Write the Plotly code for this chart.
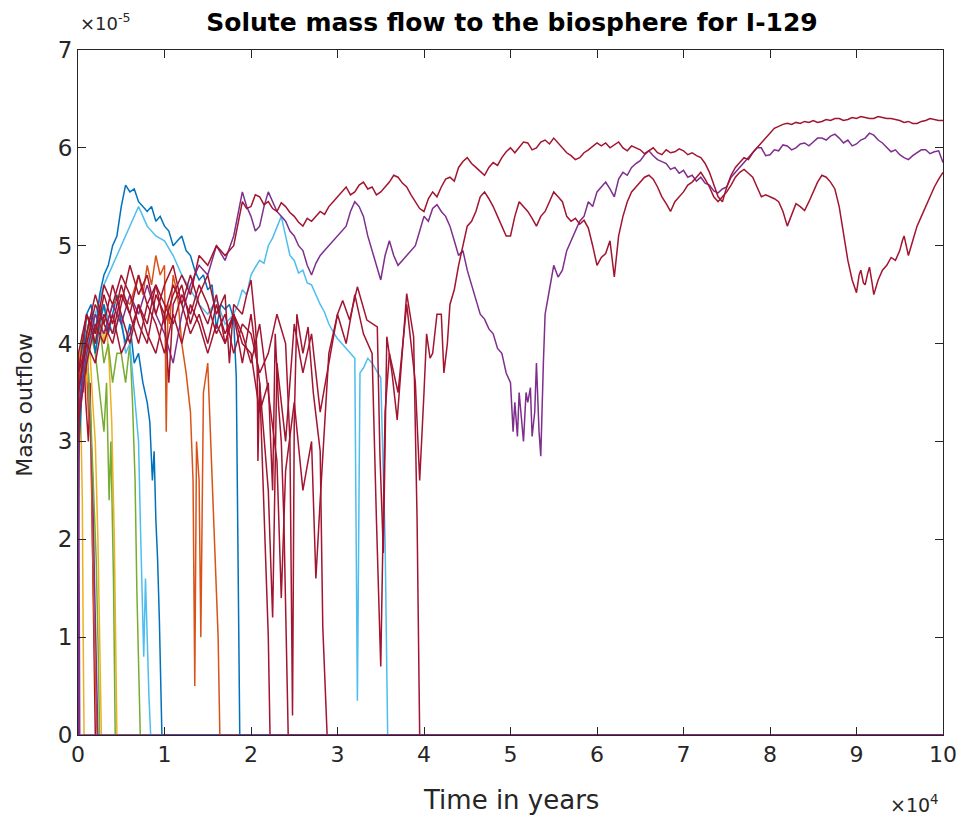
import plotly.graph_objects as go

# MATLAB default colour order
BLUE = "#0072BD"
ORANGE = "#D95319"
YELLOW = "#EDB120"
PURPLE = "#7E2F8E"
GREEN = "#77AC30"
CYAN = "#4DBEEE"
DARKRED = "#A2142F"

# Axis ticks (time in 1e4 years, outflow in 1e-5)
x_ticks = [0, 1, 2, 3, 4, 5, 6, 7, 8, 9, 10]
y_ticks = [0, 1, 2, 3, 4, 5, 6, 7]

# Each realisation: (time [x1e4 years], mass outflow [x1e-5])
purple_a = [(0, 0), (0.005, 3.0), (0.01, 2.2), (0.015, 1.2), (0.02, 0), (10, 0)]
yellow_a = [(0, 0), (0.005, 3.6), (0.02, 3.9), (0.035, 3.2), (0.05, 2.4), (0.06, 1.0), (0.07, 0), (10, 0)]
red_a = [(0, 0), (0.005, 3.8), (0.03, 3.5), (0.06, 4.0), (0.09, 3.4), (0.12, 3.0), (0.14, 3.6),
         (0.16, 2.4), (0.18, 1.0), (0.2, 0), (10, 0)]
orange_a = [(0, 0), (0.005, 3.4), (0.03, 3.8), (0.06, 3.5), (0.09, 3.9), (0.12, 3.3), (0.15, 3.0),
            (0.17, 1.8), (0.2, 0.6), (0.22, 0), (10, 0)]
purple_c = [(0, 0), (0.005, 3.7), (0.04, 4.0), (0.08, 3.6), (0.11, 3.9), (0.14, 3.2), (0.17, 2.6),
            (0.19, 1.6), (0.21, 0.8), (0.23, 0), (10, 0)]
green_a = [(0, 0), (0.005, 3.9), (0.04, 3.5), (0.08, 4.0), (0.12, 3.7), (0.15, 3.2), (0.18, 2.5),
           (0.21, 1.8), (0.23, 1.0), (0.25, 0), (10, 0)]
yellow_b = [(0, 0), (0.005, 3.8), (0.04, 4.0), (0.08, 3.7), (0.11, 4.2), (0.14, 3.9), (0.17, 3.4),
            (0.2, 3.0), (0.23, 2.0), (0.25, 1.0), (0.27, 0), (10, 0)]
yellow_c = [(0, 0), (0.005, 3.3), (0.05, 3.9), (0.1, 3.6), (0.15, 4.2), (0.2, 4.0), (0.25, 4.4),
            (0.3, 4.0), (0.33, 4.2), (0.36, 3.8), (0.39, 3.2), (0.42, 2.0), (0.45, 0), (10, 0)]
green_c = [(0, 0), (0.005, 3.6), (0.05, 4.1), (0.1, 3.8), (0.15, 4.2), (0.2, 3.9), (0.25, 3.5),
           (0.3, 3.1), (0.33, 3.6), (0.36, 2.4), (0.38, 3.0), (0.41, 1.6), (0.43, 0), (10, 0)]
green_b = [(0, 0), (0.005, 3.0), (0.05, 3.6), (0.1, 3.8), (0.15, 4.1), (0.2, 3.9), (0.25, 4.2),
           (0.3, 3.8), (0.35, 4.0), (0.4, 3.6), (0.45, 3.9), (0.5, 3.9), (0.55, 3.6), (0.6, 4.0),
           (0.63, 3.4), (0.66, 2.6), (0.68, 1.5), (0.7, 0.6), (0.72, 0), (10, 0)]
cyan_c = [(0, 0), (0.005, 3.4), (0.05, 3.7), (0.1, 3.9), (0.15, 4.2), (0.2, 4.0), (0.3, 4.4),
          (0.4, 4.1), (0.5, 4.3), (0.55, 3.9), (0.6, 4.0), (0.65, 3.5), (0.7, 3.0), (0.72, 2.2),
          (0.74, 1.5), (0.76, 0.8), (0.78, 1.6), (0.8, 0.9), (0.82, 0.4), (0.84, 0), (10, 0)]
blue_a = [(0, 0), (0.005, 2.8), (0.05, 3.6), (0.1, 4.1), (0.15, 4.3), (0.2, 3.9), (0.25, 4.2),
          (0.3, 4.4), (0.35, 4.1), (0.4, 4.3), (0.45, 4.5), (0.5, 4.2), (0.55, 4.0), (0.6, 4.2),
          (0.65, 3.8), (0.7, 3.9), (0.75, 3.6), (0.8, 3.4), (0.83, 3.2), (0.86, 2.6), (0.88, 2.9),
          (0.9, 2.2), (0.92, 1.8), (0.94, 1.2), (0.96, 0.5), (0.97, 0), (10, 0)]
blue_b = [(0, 0), (0.005, 3.0), (0.05, 3.8), (0.1, 4.3), (0.15, 4.4), (0.2, 4.1), (0.25, 4.5),
          (0.3, 4.7), (0.35, 4.8), (0.4, 5.0), (0.45, 5.1), (0.5, 5.4), (0.55, 5.62), (0.6, 5.55),
          (0.65, 5.58), (0.7, 5.45), (0.75, 5.4), (0.8, 5.35), (0.85, 5.4), (0.9, 5.25), (0.95, 5.3),
          (1.0, 5.2), (1.05, 5.15), (1.1, 5.0), (1.15, 5.05), (1.2, 5.1), (1.25, 4.95), (1.3, 4.9),
          (1.35, 4.75), (1.4, 4.65), (1.45, 4.7), (1.5, 4.55), (1.55, 4.6), (1.6, 4.15), (1.65, 4.4),
          (1.7, 4.35), (1.75, 4.4), (1.8, 4.25), (1.83, 3.65), (1.85, 2.0), (1.87, 0), (10, 0)]
orange_b = [(0, 0), (0.005, 3.6), (0.1, 4.0), (0.2, 4.3), (0.3, 4.1), (0.4, 4.4), (0.5, 4.5),
            (0.6, 4.4), (0.7, 4.7), (0.75, 4.5), (0.8, 4.8), (0.85, 4.6), (0.9, 4.9), (0.95, 4.7),
            (1.0, 4.8), (1.02, 3.1), (1.04, 4.4), (1.06, 4.2), (1.1, 4.7), (1.15, 4.5), (1.2, 4.0),
            (1.25, 3.7), (1.3, 3.3), (1.33, 2.6), (1.35, 0.5), (1.37, 3.0), (1.4, 2.6), (1.42, 1.0),
            (1.45, 3.5), (1.5, 3.8), (1.53, 3.1), (1.56, 2.4), (1.6, 1.5), (1.62, 1.0), (1.64, 0),
            (10, 0)]
cyan_b = [(0, 0), (0.005, 3.2), (0.1, 3.9), (0.2, 4.3), (0.3, 4.6), (0.4, 4.8), (0.5, 5.0),
          (0.6, 5.2), (0.7, 5.4), (0.75, 5.3), (0.8, 5.2), (0.9, 5.1), (1.0, 5.05), (1.1, 4.9),
          (1.2, 4.7), (1.3, 4.55), (1.4, 4.4), (1.5, 4.3), (1.6, 4.45), (1.7, 4.2), (1.8, 4.3),
          (1.85, 4.4), (1.9, 4.55), (1.95, 4.5), (2.0, 4.7), (2.05, 4.78), (2.1, 4.85), (2.15, 4.82),
          (2.2, 5.0), (2.25, 5.08), (2.3, 5.2), (2.35, 5.3), (2.4, 5.1), (2.45, 4.9), (2.5, 4.85),
          (2.55, 4.72), (2.6, 4.75), (2.65, 4.62), (2.7, 4.6), (2.75, 4.5), (2.8, 4.4), (2.85, 4.32),
          (2.9, 4.2), (2.95, 4.12), (3.0, 4.05), (3.05, 4.0), (3.1, 3.95), (3.15, 3.9), (3.2, 3.85),
          (3.23, 0.35), (3.26, 3.7), (3.3, 3.75), (3.35, 3.85), (3.4, 3.8), (3.45, 3.72), (3.5, 3.65),
          (3.55, 2.0), (3.58, 0), (10, 0)]
red_d = [(0, 0), (0.005, 3.9), (0.1, 4.3), (0.2, 4.1), (0.3, 4.6), (0.4, 4.4), (0.5, 4.7),
         (0.6, 4.5), (0.7, 4.2), (0.8, 4.0), (0.9, 4.5), (1.0, 4.3), (1.05, 3.6), (1.1, 4.4),
         (1.2, 4.6), (1.3, 4.2), (1.4, 4.5), (1.5, 4.7), (1.6, 4.3), (1.7, 4.5), (1.75, 3.8),
         (1.8, 4.4), (1.9, 4.3), (1.95, 4.5), (2.0, 4.65), (2.05, 4.2), (2.07, 3.9), (2.08, 2.8),
         (2.1, 3.6), (2.15, 2.4), (2.2, 1.0), (2.22, 0), (10, 0)]
red_e = [(0, 0), (0.005, 3.5), (0.1, 4.1), (0.2, 4.5), (0.3, 4.2), (0.4, 4.0), (0.5, 4.4),
         (0.6, 4.8), (0.7, 4.5), (0.8, 4.7), (0.9, 4.3), (1.0, 4.6), (1.1, 4.8), (1.2, 4.4),
         (1.3, 4.1), (1.4, 4.3), (1.5, 4.0), (1.6, 4.4), (1.7, 4.1), (1.8, 4.3), (1.9, 4.0),
         (2.0, 3.9), (2.1, 3.3), (2.2, 3.6), (2.25, 2.5), (2.28, 4.1), (2.32, 3.35), (2.35, 3.0),
         (2.38, 2.2), (2.41, 1.0), (2.43, 0), (10, 0)]
red_f = [(0, 0), (0.005, 3.2), (0.1, 3.8), (0.2, 4.2), (0.3, 4.0), (0.4, 4.3), (0.5, 3.9),
         (0.6, 4.1), (0.7, 4.4), (0.8, 4.2), (0.9, 4.6), (1.0, 4.4), (1.1, 4.2), (1.2, 4.5),
         (1.3, 4.3), (1.4, 4.6), (1.5, 4.4), (1.6, 4.1), (1.7, 4.3), (1.8, 3.9), (1.9, 4.2),
         (2.0, 4.1), (2.1, 3.7), (2.2, 3.9), (2.3, 4.3), (2.4, 4.0), (2.45, 3.0), (2.48, 0.2),
         (2.5, 3.2), (2.53, 4.3), (2.6, 3.9), (2.66, 4.17), (2.72, 3.5), (2.76, 3.2), (2.8, 2.9),
         (2.83, 1.1), (2.86, 0.5), (2.88, 0), (10, 0)]
red_g = [(0, 0), (0.005, 3.7), (0.1, 4.0), (0.2, 3.8), (0.3, 4.3), (0.4, 4.1), (0.5, 4.5),
         (0.6, 4.3), (0.7, 4.0), (0.8, 4.4), (0.9, 4.2), (1.0, 3.9), (1.1, 4.3), (1.2, 4.0),
         (1.3, 4.4), (1.4, 4.2), (1.5, 3.9), (1.6, 4.2), (1.7, 4.0), (1.8, 4.3), (1.9, 4.1),
         (2.0, 3.8), (2.1, 4.2), (2.2, 3.5), (2.3, 2.8), (2.35, 1.4), (2.4, 2.7), (2.5, 3.4),
         (2.6, 2.5), (2.7, 3.0), (2.75, 1.6), (2.8, 2.4), (2.9, 3.9), (3.0, 4.3), (3.06, 4.44),
         (3.14, 4.24), (3.23, 4.58), (3.34, 4.24), (3.46, 4.17), (3.49, 2.88), (3.53, 1.86),
         (3.57, 4.07), (3.63, 3.7), (3.69, 3.22), (3.75, 3.9), (3.8, 4.51), (3.88, 4.07),
         (3.92, 2.2), (3.95, 0), (10, 0)]
purple_b = [(0, 0), (0.005, 3.3), (0.1, 3.9), (0.2, 4.3), (0.3, 4.1), (0.4, 4.4), (0.5, 4.2),
            (0.6, 4.5), (0.7, 4.3), (0.8, 4.6), (0.9, 4.3), (1.0, 4.1), (1.1, 3.8), (1.2, 4.3),
            (1.3, 4.6), (1.4, 4.8), (1.5, 4.7), (1.6, 5.0), (1.7, 4.85), (1.8, 5.1),
            (1.9, 5.55), (1.95, 5.4), (2.0, 5.3), (2.05, 5.15), (2.1, 5.2), (2.15, 5.4), (2.2, 5.55),
            (2.25, 5.45), (2.3, 5.35), (2.35, 5.3), (2.4, 5.25), (2.45, 5.15), (2.5, 5.1), (2.55, 5.0),
            (2.6, 4.95), (2.65, 4.8), (2.7, 4.7), (2.75, 4.82), (2.8, 4.9), (2.85, 4.95), (2.9, 5.0),
            (2.95, 5.05), (3.0, 5.1), (3.05, 5.15), (3.1, 5.2), (3.15, 5.35), (3.2, 5.45), (3.25, 5.4),
            (3.3, 5.3), (3.35, 5.1), (3.4, 4.95), (3.45, 4.8), (3.5, 4.65), (3.55, 4.9), (3.6, 5.05),
            (3.65, 4.9), (3.7, 4.8), (3.75, 4.85), (3.8, 4.9), (3.85, 4.95), (3.9, 5.0), (3.95, 5.15),
            (4.0, 5.3), (4.05, 5.25), (4.1, 5.38), (4.15, 5.42), (4.2, 5.35), (4.25, 5.3), (4.3, 5.2),
            (4.35, 5.05), (4.4, 4.9), (4.45, 4.95), (4.5, 4.75), (4.55, 4.6), (4.6, 4.45), (4.65, 4.3),
            (4.7, 4.25), (4.75, 4.15), (4.8, 4.1), (4.85, 3.95), (4.9, 3.9), (4.95, 3.7), (5.0, 3.6),
            (5.03, 3.1), (5.05, 3.4), (5.08, 3.05), (5.1, 3.5), (5.13, 3.2), (5.15, 3.0), (5.18, 3.5),
            (5.2, 3.4), (5.23, 3.55), (5.25, 3.05), (5.28, 3.3), (5.3, 3.8), (5.33, 3.1), (5.35, 2.85),
            (5.38, 3.8), (5.4, 4.3), (5.45, 4.55), (5.5, 4.8), (5.55, 4.68), (5.6, 4.75), (5.65, 4.95),
            (5.7, 5.05), (5.75, 5.15), (5.8, 5.25), (5.85, 5.3), (5.9, 5.45), (5.95, 5.4), (6.0, 5.55),
            (6.05, 5.6), (6.1, 5.65), (6.15, 5.58), (6.2, 5.5), (6.25, 5.68), (6.3, 5.75), (6.35, 5.72),
            (6.4, 5.8), (6.45, 5.84), (6.5, 5.87), (6.55, 5.93), (6.6, 5.97), (6.65, 5.92), (6.7, 5.88),
            (6.75, 5.86), (6.8, 5.84), (6.85, 5.78), (6.9, 5.8), (6.95, 5.74), (7.0, 5.77), (7.05, 5.7),
            (7.1, 5.72), (7.15, 5.66), (7.2, 5.7), (7.25, 5.64), (7.3, 5.62), (7.35, 5.56), (7.4, 5.54),
            (7.45, 5.58), (7.5, 5.6), (7.55, 5.7), (7.6, 5.75), (7.65, 5.8), (7.7, 5.85), (7.75, 5.9),
            (7.8, 5.95), (7.85, 6.0), (7.9, 6.0), (7.95, 5.92), (8.0, 5.93), (8.05, 5.98), (8.1, 5.97),
            (8.15, 6.03), (8.2, 6.02), (8.25, 5.98), (8.3, 6.0), (8.35, 6.04), (8.4, 6.05), (8.45, 6.02),
            (8.5, 6.06), (8.55, 6.1), (8.6, 6.1), (8.65, 6.08), (8.7, 6.12), (8.75, 6.14), (8.8, 6.1),
            (8.85, 6.05), (8.9, 6.08), (8.95, 6.02), (9.0, 6.04), (9.05, 6.08), (9.1, 6.1), (9.15, 6.15),
            (9.2, 6.13), (9.25, 6.08), (9.3, 6.05), (9.35, 6.0), (9.4, 5.96), (9.45, 5.98), (9.5, 5.93),
            (9.55, 5.9), (9.6, 5.88), (9.65, 5.92), (9.7, 5.95), (9.75, 5.98), (9.8, 5.98), (9.85, 5.94),
            (9.9, 5.96), (9.95, 5.97), (10.0, 5.85)]
red_c = [(0, 0), (0.005, 3.5), (0.1, 4.0), (0.2, 4.4), (0.3, 4.2), (0.4, 4.6), (0.5, 4.3),
         (0.6, 4.0), (0.7, 4.4), (0.8, 4.1), (0.9, 3.9), (1.0, 4.3), (1.1, 4.6), (1.2, 4.4),
         (1.3, 4.7), (1.4, 4.4), (1.5, 4.2), (1.6, 4.5), (1.7, 4.0), (1.8, 4.3), (1.9, 3.8),
         (2.0, 4.3), (2.1, 3.6), (2.2, 2.5), (2.25, 1.2), (2.3, 3.8), (2.4, 3.0), (2.5, 4.2),
         (2.6, 3.7), (2.7, 4.1), (2.8, 3.3), (2.9, 3.8), (3.0, 4.3), (3.1, 4.0), (3.2, 4.5),
         (3.3, 4.1), (3.4, 3.9), (3.45, 2.2), (3.5, 0.7), (3.55, 3.3), (3.6, 3.9), (3.7, 3.5),
         (3.8, 4.4), (3.9, 3.6), (3.95, 2.6), (4.0, 3.5), (4.03, 4.1), (4.07, 3.85), (4.1, 3.9),
         (4.15, 4.3), (4.2, 4.3), (4.23, 3.7), (4.27, 4.0), (4.3, 4.4), (4.35, 4.55), (4.4, 4.8),
         (4.45, 5.0), (4.5, 5.2), (4.55, 5.25), (4.6, 5.35), (4.65, 5.5), (4.7, 5.55), (4.75, 5.48),
         (4.8, 5.4), (4.85, 5.3), (4.9, 5.2), (4.95, 5.1), (5.0, 5.1), (5.05, 5.3), (5.1, 5.45),
         (5.15, 5.4), (5.2, 5.35), (5.25, 5.28), (5.3, 5.2), (5.35, 5.3), (5.4, 5.35), (5.45, 5.45),
         (5.5, 5.55), (5.55, 5.5), (5.6, 5.45), (5.65, 5.3), (5.7, 5.25), (5.75, 5.28), (5.8, 5.22),
         (5.85, 5.26), (5.9, 5.18), (5.95, 5.0), (6.0, 4.8), (6.05, 4.88), (6.1, 4.92), (6.15, 5.05),
         (6.18, 4.85), (6.2, 4.68), (6.25, 5.1), (6.3, 5.3), (6.35, 5.45), (6.4, 5.55), (6.45, 5.6),
         (6.5, 5.65), (6.55, 5.7), (6.6, 5.72), (6.65, 5.68), (6.7, 5.6), (6.75, 5.5), (6.8, 5.43),
         (6.85, 5.35), (6.9, 5.45), (6.95, 5.5), (7.0, 5.55), (7.05, 5.62), (7.1, 5.65), (7.15, 5.7),
         (7.2, 5.75), (7.25, 5.68), (7.3, 5.6), (7.35, 5.5), (7.4, 5.45), (7.45, 5.5), (7.5, 5.55),
         (7.55, 5.62), (7.6, 5.7), (7.65, 5.75), (7.7, 5.78), (7.75, 5.74), (7.8, 5.7), (7.85, 5.6),
         (7.9, 5.5), (7.95, 5.52), (8.0, 5.5), (8.05, 5.48), (8.1, 5.45), (8.15, 5.35), (8.2, 5.2),
         (8.25, 5.32), (8.3, 5.43), (8.35, 5.4), (8.4, 5.36), (8.45, 5.45), (8.5, 5.55), (8.55, 5.65),
         (8.6, 5.72), (8.65, 5.7), (8.7, 5.65), (8.75, 5.58), (8.8, 5.4), (8.85, 5.1), (8.9, 4.85),
         (8.95, 4.65), (9.0, 4.52), (9.03, 4.7), (9.05, 4.75), (9.08, 4.62), (9.1, 4.6), (9.13, 4.72),
         (9.15, 4.78), (9.18, 4.62), (9.2, 4.5), (9.25, 4.65), (9.3, 4.75), (9.35, 4.8), (9.4, 4.88),
         (9.45, 4.85), (9.5, 4.95), (9.53, 5.05), (9.55, 5.1), (9.58, 4.98), (9.6, 4.9), (9.65, 5.05),
         (9.7, 5.2), (9.75, 5.3), (9.8, 5.4), (9.85, 5.5), (9.9, 5.6), (9.95, 5.68), (10.0, 5.75)]
red_b = [(0, 0), (0.005, 3.7), (0.1, 4.3), (0.2, 4.0), (0.3, 4.5), (0.4, 4.2), (0.5, 4.6),
         (0.6, 4.3), (0.7, 4.7), (0.8, 4.4), (0.9, 4.6), (1.0, 4.2), (1.1, 4.5), (1.2, 4.7),
         (1.3, 4.5), (1.4, 4.9), (1.5, 4.8), (1.6, 5.0), (1.7, 4.9), (1.8, 5.0),
         (1.9, 5.45), (1.95, 5.38), (2.0, 5.4), (2.05, 5.52), (2.1, 5.5), (2.15, 5.42), (2.2, 5.45),
         (2.25, 5.38), (2.3, 5.35), (2.35, 5.44), (2.4, 5.4), (2.45, 5.34), (2.5, 5.3), (2.55, 5.24),
         (2.6, 5.2), (2.65, 5.28), (2.7, 5.25), (2.75, 5.3), (2.8, 5.35), (2.85, 5.32), (2.9, 5.4),
         (2.95, 5.45), (3.0, 5.5), (3.05, 5.55), (3.1, 5.6), (3.15, 5.52), (3.2, 5.55), (3.25, 5.62),
         (3.3, 5.65), (3.35, 5.58), (3.4, 5.6), (3.45, 5.52), (3.5, 5.55), (3.55, 5.6), (3.6, 5.65),
         (3.65, 5.72), (3.7, 5.7), (3.75, 5.64), (3.8, 5.6), (3.85, 5.52), (3.9, 5.45), (3.95, 5.38),
         (4.0, 5.35), (4.05, 5.48), (4.1, 5.55), (4.15, 5.5), (4.2, 5.6), (4.25, 5.68), (4.3, 5.7),
         (4.35, 5.66), (4.4, 5.8), (4.45, 5.86), (4.5, 5.9), (4.55, 5.84), (4.6, 5.8), (4.65, 5.76),
         (4.7, 5.72), (4.75, 5.8), (4.8, 5.85), (4.85, 5.82), (4.9, 5.9), (4.95, 5.96), (5.0, 6.0),
         (5.05, 5.95), (5.1, 6.0), (5.15, 6.06), (5.2, 6.05), (5.25, 5.98), (5.3, 6.0), (5.35, 6.06),
         (5.4, 6.08), (5.45, 6.04), (5.5, 6.1), (5.55, 6.05), (5.6, 6.0), (5.65, 5.95), (5.7, 5.92),
         (5.75, 5.88), (5.8, 5.9), (5.85, 5.95), (5.9, 5.98), (5.95, 6.02), (6.0, 6.05), (6.05, 6.02),
         (6.1, 6.05), (6.15, 6.0), (6.2, 6.03), (6.25, 6.06), (6.3, 6.0), (6.35, 5.97), (6.4, 6.02),
         (6.45, 6.0), (6.5, 5.98), (6.55, 5.94), (6.6, 5.97), (6.65, 6.0), (6.7, 5.95), (6.75, 5.93),
         (6.8, 5.98), (6.85, 5.95), (6.9, 5.96), (6.95, 5.99), (7.0, 5.97), (7.05, 5.93), (7.1, 5.95),
         (7.15, 5.92), (7.2, 5.9), (7.25, 5.84), (7.3, 5.75), (7.35, 5.62), (7.4, 5.5), (7.45, 5.45),
         (7.5, 5.6), (7.55, 5.72), (7.6, 5.8), (7.65, 5.85), (7.7, 5.9), (7.75, 5.88), (7.8, 5.95),
         (7.85, 6.0), (7.9, 6.05), (7.95, 6.1), (8.0, 6.15), (8.05, 6.2), (8.1, 6.22), (8.15, 6.24),
         (8.2, 6.25), (8.25, 6.24), (8.3, 6.26), (8.35, 6.25), (8.4, 6.27), (8.45, 6.26), (8.5, 6.28),
         (8.55, 6.26), (8.6, 6.27), (8.65, 6.29), (8.7, 6.28), (8.75, 6.3), (8.8, 6.3), (8.85, 6.28),
         (8.9, 6.29), (8.95, 6.31), (9.0, 6.3), (9.05, 6.32), (9.1, 6.31), (9.15, 6.3), (9.2, 6.3),
         (9.25, 6.32), (9.3, 6.31), (9.35, 6.3), (9.4, 6.3), (9.45, 6.29), (9.5, 6.28), (9.55, 6.26),
         (9.6, 6.27), (9.65, 6.25), (9.7, 6.25), (9.75, 6.27), (9.8, 6.28), (9.85, 6.3), (9.9, 6.29),
         (9.95, 6.28), (10.0, 6.28)]

# drawing order (later = on top) with colours
series = [
    (yellow_a, YELLOW), (red_a, DARKRED), (orange_a, ORANGE), (purple_c, PURPLE),
    (green_a, GREEN), (yellow_b, YELLOW), (yellow_c, YELLOW), (green_c, GREEN),
    (green_b, GREEN), (cyan_c, CYAN), (blue_a, BLUE), (orange_b, ORANGE),
    (cyan_b, CYAN), (blue_b, BLUE), (purple_b, PURPLE), (red_d, DARKRED),
    (red_e, DARKRED), (red_f, DARKRED), (red_g, DARKRED), (red_c, DARKRED),
    (red_b, DARKRED), (purple_a, PURPLE),
]

TIME_SCALE = 1e4
FLOW_SCALE = 1e-5

fig = go.Figure()
for pts, col in series:
    t = [p[0] * TIME_SCALE for p in pts]
    m = [p[1] * FLOW_SCALE for p in pts]
    fig.add_trace(go.Scatter(x=t, y=m, mode="lines",
                             line=dict(color=col, width=1.5),
                             showlegend=False, hoverinfo="skip"))

FONT = "DejaVu Sans, Liberation Sans, Arial, sans-serif"
AX = "#262626"

# page body has an 8px margin: figure is sized so that it fills the 966x827 window
W, H = 950, 811
PL, PT, PR, PB = 70, 42, 15, 84
fig.update_layout(
    width=W, height=H,
    margin=dict(l=PL, r=PR, t=PT, b=PB, autoexpand=False),
    paper_bgcolor="white", plot_bgcolor="white",
    font=dict(family=FONT, color=AX),
    title=dict(text="<b>Solute mass flow to the biosphere for I-129</b>",
               x=504 / W, xanchor="center", y=1 - 14 / H, yanchor="middle",
               font=dict(size=25, color="#000000", family=FONT)),
    xaxis=dict(range=[0, 10 * TIME_SCALE],
               tickvals=[v * TIME_SCALE for v in x_ticks],
               ticktext=[str(v) for v in x_ticks],
               ticks="inside", ticklen=8, tickcolor=AX, mirror="allticks",
               showline=True, linecolor=AX, linewidth=1, automargin=False,
               showgrid=False, zeroline=False, ticklabeloverflow="allow",
               tickfont=dict(size=22, color=AX)),
    yaxis=dict(range=[0, 7 * FLOW_SCALE],
               tickvals=[v * FLOW_SCALE for v in y_ticks],
               ticktext=[str(v) for v in y_ticks],
               ticks="inside", ticklen=8, tickcolor=AX, mirror="allticks",
               showline=True, linecolor=AX, linewidth=1, automargin=False,
               showgrid=False, zeroline=False, ticklabeloverflow="allow",
               tickfont=dict(size=23, color=AX)),
    annotations=[
        dict(text="Time in years", xref="paper", yref="paper", x=0.5, y=0,
             xanchor="center", yanchor="middle", yshift=-65,
             showarrow=False, font=dict(size=26, color=AX)),
        dict(text="Mass outflow", textangle=-90, xref="paper", yref="paper",
             x=0, y=0.482, xanchor="center", yanchor="middle", xshift=-53,
             showarrow=False, font=dict(size=22, color=AX)),
        dict(text="×10<sup>-5</sup>", xref="paper", yref="paper", x=0, y=1,
             xanchor="left", yanchor="bottom", yshift=14, showarrow=False,
             font=dict(size=18, color=AX)),
        dict(text="×10<sup>4</sup>", xref="paper", yref="paper", x=1, y=0,
             xanchor="right", yanchor="top", yshift=-55, xshift=-2, showarrow=False,
             font=dict(size=19, color=AX)),
    ],
)

fig.write_html("out.html")
